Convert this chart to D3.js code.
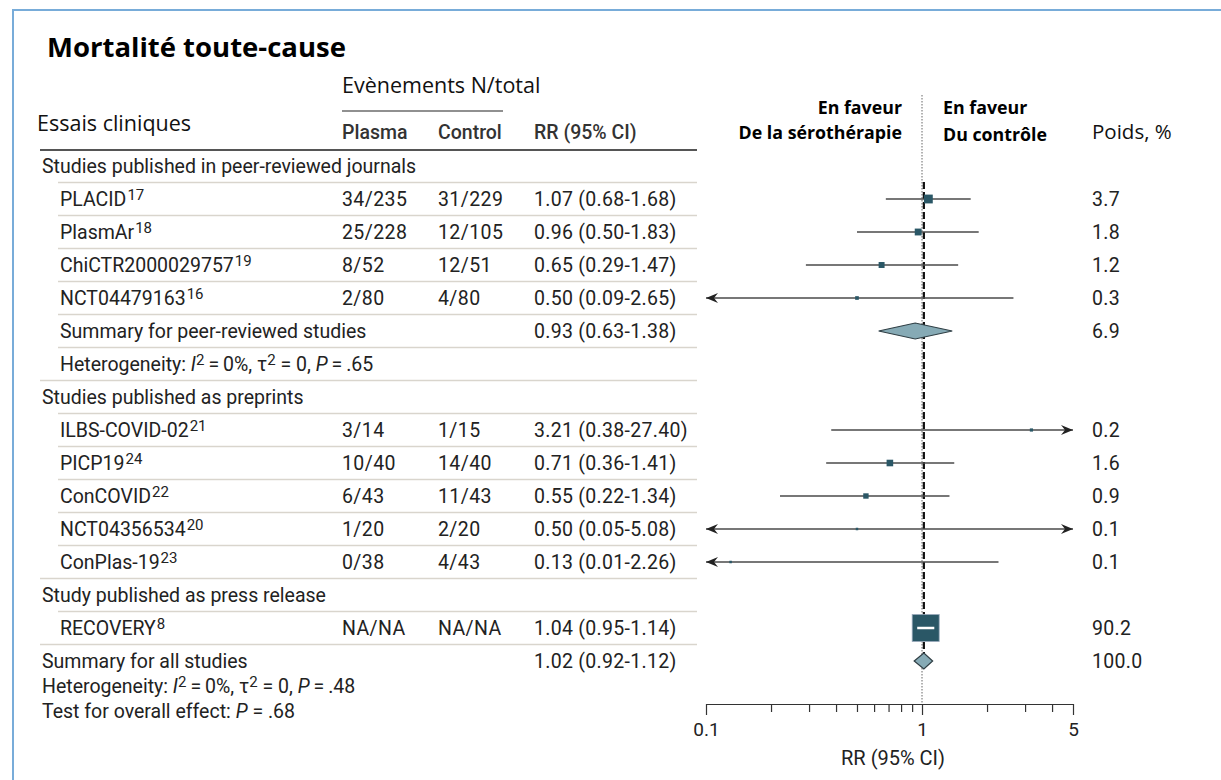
<!DOCTYPE html>
<meta charset="utf-8">
<style>

body {
  margin: 0;
  background: #fff;
}

text {
  font-family: Roboto, "Noto Sans", sans-serif;
  font-size: 19.5px;
  fill: #222;
}

.cal {
  font-family: "Open Sans", "Noto Sans", sans-serif;
}

.sep {
  stroke: #d9d5cd;
  stroke-width: 1.5;
}

.ci {
  stroke: #4a4a4a;
  stroke-width: 1.3;
}

.box {
  fill: #2a5766;
}

.diamond {
  fill: #86aab5;
  stroke: #2f3e44;
  stroke-width: 1.2;
}

.axis path, .axis line {
  stroke: #333;
  stroke-width: 1.2;
}

.axis text {
  font-family: Roboto, sans-serif;
  font-size: 19px;
  fill: #222;
}

</style>
<body>
<script src="https://cdnjs.cloudflare.com/ajax/libs/d3/7.8.5/d3.min.js"></script>
<script>

// study-level data
var studies = ["PLACID", "PlasmAr", "ChiCTR2000029757", "NCT04479163", "ILBS-COVID-02",
               "PICP19", "ConCOVID", "NCT04356534", "ConPlas-19", "RECOVERY"];
var refs    = ["17", "18", "19", "16", "21", "24", "22", "20", "23", "8"];
var rows    = [1, 2, 3, 4, 8, 9, 10, 11, 12, 14];
var plasma  = ["34/235", "25/228", "8/52", "2/80", "3/14", "10/40", "6/43", "1/20", "0/38", "NA/NA"];
var control = ["31/229", "12/105", "12/51", "4/80", "1/15", "14/40", "11/43", "2/20", "4/43", "NA/NA"];
var rr      = [1.07, 0.96, 0.65, 0.50, 3.21, 0.71, 0.55, 0.50, 0.13, 1.04];
var lo      = [0.68, 0.50, 0.29, 0.09, 0.38, 0.36, 0.22, 0.05, 0.01, 0.95];
var hi      = [1.68, 1.83, 1.47, 2.65, 27.40, 1.41, 1.34, 5.08, 2.26, 1.14];
var weight  = [3.7, 1.8, 1.2, 0.3, 0.2, 1.6, 0.9, 0.1, 0.1, 90.2];

// pooled estimates
var summaryLabels = ["Summary for peer-reviewed studies", "Summary for all studies"];
var summaryRows   = [5, 15];
var summaryRR     = [0.93, 1.02];
var summaryLo     = [0.63, 0.92];
var summaryHi     = [1.38, 1.12];
var summaryWeight = [6.9, 100.0];

// group headings
var groupLabels = ["Studies published in peer-reviewed journals",
                   "Studies published as preprints",
                   "Study published as press release"];
var groupRows = [0, 7, 13];

var axisTicks = [0.1, 0.2, 0.3, 0.4, 0.5, 0.6, 0.7, 0.8, 0.9, 1, 2, 3, 4, 5];
var axisLabels = [0.1, 1, 5];

var width = 1221,
    height = 780;

var svg = d3.select("body").append("svg")
    .attr("width", width)
    .attr("height", height);

// frame
svg.append("path")
    .attr("d", "M13,780V10H1221")
    .attr("fill", "none")
    .attr("stroke", "#78acd9")
    .attr("stroke-width", 2);

var y = d3.scaleLinear().domain([0, 15]).range([166, 661]);
var x = d3.scaleLog().domain([0.1, 5]).range([706, 1073]);
var size = d3.scalePow().exponent(0.35).domain([0, 90.2]).range([0, 27]);

var colPlasma = 342, colControl = 438, colRR = 534, tableRight = 697;

// title and headers
svg.append("text").attr("class", "cal")
    .attr("x", 47).attr("y", 57)
    .style("font-size", "27.5px").style("font-weight", "bold").style("fill", "#000")
    .text("Mortalité toute-cause");

svg.append("text").attr("class", "cal")
    .attr("x", 342).attr("y", 93)
    .style("font-size", "21.5px").style("fill", "#111")
    .text("Evènements N/total");

svg.append("line")
    .attr("x1", 342).attr("x2", 503).attr("y1", 111).attr("y2", 111)
    .attr("stroke", "#222").attr("stroke-width", 1.2);

svg.append("text").attr("class", "cal")
    .attr("x", 37).attr("y", 131)
    .style("font-size", "21.5px").style("fill", "#111")
    .text("Essais cliniques");

[["Plasma", colPlasma], ["Control", colControl], ["RR (95% CI)", colRR]].forEach(function(h) {
  svg.append("text")
      .attr("x", h[1]).attr("y", 139)
      .style("font-weight", 500).style("fill", "#333")
      .text(h[0]);
});

svg.append("line")
    .attr("x1", 40).attr("x2", tableRight).attr("y1", 150).attr("y2", 150)
    .attr("stroke", "#555").attr("stroke-width", 2);

// favour labels
var favour = [["En faveur", 902, 114, "end"], ["De la sérothérapie", 902, 139, "end"],
              ["En faveur", 943, 114, "start"], ["Du contrôle", 943, 141, "start"]];
favour.forEach(function(f) {
  svg.append("text").attr("class", "cal")
      .attr("x", f[1]).attr("y", f[2]).attr("text-anchor", f[3])
      .style("font-size", "17.8px").style("font-weight", "bold").style("fill", "#000")
      .text(f[0]);
});
svg.append("text").attr("class", "cal")
    .attr("x", 1092).attr("y", 139)
    .style("font-size", "20.5px").style("fill", "#111")
    .text("Poids, %");

// row separators: full-width after a block, indented otherwise
var fullAfter = [6, 12, 14];
d3.range(0, 15).forEach(function(k) {
  svg.append("line").attr("class", "sep")
      .attr("x1", fullAfter.indexOf(k) >= 0 ? 40 : 58)
      .attr("x2", tableRight)
      .attr("y1", y(k) + 16.5).attr("y2", y(k) + 16.5);
});

// group headings
svg.selectAll(".group")
    .data(groupLabels)
  .enter().append("text")
    .attr("class", "group")
    .attr("x", 42)
    .attr("y", function(d, i) { return y(groupRows[i]) + 7; })
    .text(function(d) { return d; });

// study rows
var fmt = d3.format(".2f");
var row = svg.selectAll(".study")
    .data(studies)
  .enter().append("g")
    .attr("class", "study")
    .attr("transform", function(d, i) { return "translate(0," + y(rows[i]) + ")"; });

var studyLabel = row.append("text").attr("x", 60).attr("y", 7);
studyLabel.append("tspan").text(function(d) { return d; });
studyLabel.append("tspan")
    .attr("dx", 1).attr("dy", -6).style("font-size", "15px")
    .text(function(d, i) { return refs[i]; });

row.append("text").attr("x", colPlasma).attr("y", 7)
    .style("letter-spacing", "0.4px")
    .text(function(d, i) { return plasma[i]; });
row.append("text").attr("x", colControl).attr("y", 7)
    .style("letter-spacing", "0.4px")
    .text(function(d, i) { return control[i]; });
row.append("text").attr("x", colRR).attr("y", 7)
    .style("letter-spacing", "0.3px")
    .text(function(d, i) { return fmt(rr[i]) + " (" + fmt(lo[i]) + "-" + fmt(hi[i]) + ")"; });
row.append("text").attr("x", 1092).attr("y", 7)
    .style("letter-spacing", "0.3px")
    .text(function(d, i) { return d3.format(".1f")(weight[i]); });

// summary rows
summaryLabels.forEach(function(label, i) {
  var yy = y(summaryRows[i]);
  svg.append("text").attr("x", i === 0 ? 60 : 42).attr("y", yy + 7).text(label);
  svg.append("text").attr("x", colRR).attr("y", yy + 7)
      .style("letter-spacing", "0.3px")
      .text(fmt(summaryRR[i]) + " (" + fmt(summaryLo[i]) + "-" + fmt(summaryHi[i]) + ")");
  svg.append("text").attr("x", 1092).attr("y", yy + 7)
      .style("letter-spacing", "0.3px")
      .text(d3.format(".1f")(summaryWeight[i]));
});

// heterogeneity lines
function hetero(xx, yy, p) {
  var t = svg.append("text").attr("x", xx).attr("y", yy);
  t.append("tspan").text("Heterogeneity: ");
  t.append("tspan").style("font-style", "italic").text("I");
  t.append("tspan").attr("dy", -6).style("font-size", "15px").text("2");
  t.append("tspan").attr("dy", 6).text("\u2009=\u20090%, τ");
  t.append("tspan").attr("dy", -6).style("font-size", "15px").text("2");
  t.append("tspan").attr("dy", 6).text(" = 0, ");
  t.append("tspan").style("font-style", "italic").text("P");
  t.append("tspan").text("\u2009=\u2009." + p);
}
hetero(60, y(6) + 7, "65");
hetero(42, 693, "48");

var test = svg.append("text").attr("x", 42).attr("y", 718);
test.append("tspan").text("Test for overall effect: ");
test.append("tspan").style("font-style", "italic").text("P");
test.append("tspan").text(" = .68");

// reference line at RR = 1
svg.append("line")
    .attr("x1", x(1)).attr("x2", x(1)).attr("y1", 95).attr("y2", 704)
    .attr("stroke", "#666").attr("stroke-width", 1)
    .attr("stroke-dasharray", "1.5,1.5");

// pooled estimate line
svg.append("line")
    .attr("x1", x(summaryRR[1])).attr("x2", x(summaryRR[1]))
    .attr("y1", 182).attr("y2", y(15) - 8)
    .attr("stroke", "#111").attr("stroke-width", 2.2)
    .attr("stroke-dasharray", "7,3");

// confidence intervals with arrows when clipped
var xmin = x.domain()[0], xmax = x.domain()[1];
var plot = svg.append("g");

studies.forEach(function(d, i) {
  var yy = y(rows[i]);
  if (i === studies.length - 1) return;
  var x1 = x(Math.max(lo[i], xmin)), x2 = x(Math.min(hi[i], xmax));
  plot.append("line").attr("class", "ci")
      .attr("x1", x1).attr("x2", x2).attr("y1", yy).attr("y2", yy);
  if (lo[i] < xmin) {
    plot.append("path")
        .attr("d", "M" + x1 + "," + yy + "l12,-5l-4,5l4,5z")
        .attr("fill", "#222");
  }
  if (hi[i] > xmax) {
    plot.append("path")
        .attr("d", "M" + x2 + "," + yy + "l-12,-5l4,5l-4,5z")
        .attr("fill", "#222");
  }
  var s = Math.max(2, size(weight[i]));
  plot.append("rect").attr("class", "box")
      .attr("x", x(rr[i]) - s / 2).attr("y", yy - s / 2)
      .attr("width", s).attr("height", s);
});

// the big study: box with white CI inside
(function() {
  var i = studies.length - 1, yy = y(rows[i]), s = size(weight[i]);
  plot.append("rect").attr("class", "box")
      .attr("x", x(rr[i]) - s / 2).attr("y", yy - s / 2)
      .attr("width", s).attr("height", s)
      .attr("stroke", "#9ab").attr("stroke-width", 0.8);
  plot.append("line")
      .attr("x1", x(lo[i])).attr("x2", x(hi[i])).attr("y1", yy).attr("y2", yy)
      .attr("stroke", "#fff").attr("stroke-width", 2.5);
})();

// diamonds
summaryRR.forEach(function(v, i) {
  var yy = y(summaryRows[i]), h = 8;
  plot.append("path").attr("class", "diamond")
      .attr("d", "M" + x(summaryLo[i]) + "," + yy +
                 "L" + x(v) + "," + (yy - h) +
                 "L" + x(summaryHi[i]) + "," + yy +
                 "L" + x(v) + "," + (yy + h) + "Z");
});

// axis
var axis = svg.append("g")
    .attr("class", "axis")
    .attr("transform", "translate(0,704)")
    .call(d3.axisBottom(x)
        .tickValues(axisTicks)
        .tickSize(8)
        .tickSizeOuter(0)
        .tickPadding(6)
        .tickFormat(function(d) { return axisLabels.indexOf(d) >= 0 ? String(d) : ""; }));

axis.selectAll(".tick line")
    .attr("y2", function(d) { return axisLabels.indexOf(d) >= 0 ? 11 : 8; });
axis.selectAll(".tick text").attr("dy", "0.95em");

svg.append("text")
    .attr("x", 893).attr("y", 765)
    .attr("text-anchor", "middle")
    .style("font-size", "20px")
    .text("RR (95% CI)");

</script>
